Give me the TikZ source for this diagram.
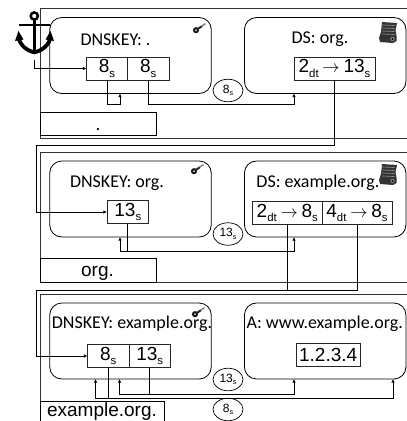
\documentclass[tikz,border=0pt]{standalone}
\usepackage{fontspec}
\setmainfont{Liberation Sans}
\newfontfamily\calib{Carlito}
\usetikzlibrary{arrows.meta,shapes.geometric}
\newcommand{\sbs}[1]{\raisebox{-0.22em}{\fontsize{0.6em}{0.6em}\selectfont #1}}
\newcommand{\arr}{\hspace{0.2em}$\rightarrow$\hspace{0.2em}}
\tikzset{
  x=1pt,y=-1pt,
  frameline/.style={draw=black!80,line width=0.8pt},
  recbox/.style={draw=black,line width=0.8pt,rounded corners=12pt,minimum width=161.5pt,minimum height=76pt,inner sep=0pt,outer sep=0pt},
  cellbox/.style={draw=black!85,line width=0.8pt,minimum height=23pt,inner sep=0pt,outer sep=0pt,font=\fontsize{19}{19}\selectfont},
  zonebox/.style={draw=black,line width=0.8pt,minimum width=116.5pt,minimum height=23.5pt,inner sep=0pt,outer sep=0pt},
  zonetext/.style={inner sep=0pt,anchor=base,font=\fontsize{19}{19}\selectfont},
  titletext/.style={inner sep=0pt,font=\calib\fontsize{18}{18}\selectfont},
  ttl/.style={inner sep=0pt,font=\fontsize{12}{12}\selectfont,draw=black,line width=0.7pt,ellipse,minimum width=30pt,minimum height=22.5pt},
  conn/.style={draw=black,line width=0.8pt},
  arrowconn/.style={conn,-{Latex[length=3.6pt,width=3.6pt]}},
}
\newcommand{\keyicon}[2]{%
  \begin{scope}[shift={(#1,#2)}]
    \draw[black!90,line width=2pt] (3,7.2) circle (2);
    \draw[black!85,line width=2pt] (4.8,5.9) -- (9,3.2);
    \draw[black!50,line width=1.4pt] (8.5,3.2) -- (12.5,0.6);
  \end{scope}}
\newcommand{\scrollicon}[2]{%
  \begin{scope}[shift={(#1,#2)}]
    \fill[black!80] (3,0) -- (18,1) -- (16.5,8) -- (17.5,14) -- (17.5,19) -- (14,21) -- (1,20) -- (0,16) -- (2,10) -- cycle;
    \foreach \yy in {3,6,9,12}{\draw[black!45,line width=0.7pt] (3.2,\yy) -- (15.5,\yy+0.5);}
    \fill[black!50] (13.5,17) circle (2.2);
    \fill[black] (13.5,17) circle (1);
  \end{scope}}
\begin{document}
\begin{tikzpicture}
\useasboundingbox (0,0) rectangle (407,421);
\clip (0,0) rectangle (407,421);
% frames
\draw[frameline] (410,8.5) -- (40,8.5) -- (40,138) -- (410,138);
\draw[frameline] (410,152.3) -- (40,152.3) -- (40,282) -- (410,282);
\draw[frameline] (410,294) -- (40,294) -- (40,425);
% anchor
\begin{scope}[black]
  \draw[line width=2.5pt] (34.3,16) circle (3.6);
  \draw[line width=3.3pt] (34.3,20) -- (34.3,52);
  \draw[line width=2.6pt] (19,25) -- (50,25);
  \draw[line width=3.8pt] (18.5,37) .. controls (20,46) and (28,51) .. (34.3,52.3) .. controls (41,51) and (49,46) .. (50.5,37);
  \fill (15,41) -- (18.5,31) -- (23.5,39.5) -- cycle;
  \fill (45.5,39.5) -- (50.5,31) -- (54,41) -- cycle;
\end{scope}
\coordinate (anchorfoot) at (34,60);
% row 1
\node[recbox] (k1) at (130.5,55.5) {};
\node[recbox] (d1) at (325.2,55.5) {};
\node[titletext] (n1) at (115.5,39.5) {DNSKEY: .};
\node[titletext] (n2) at (320,39.5) {DS: org.};
\node[cellbox,minimum width=41pt] (c1a) at (107,68.5) {8\sbs{s}};
\node[cellbox,minimum width=41.5pt] (c1b) at (148.2,68.5) {8\sbs{s}};
\node[cellbox,minimum width=81pt] (e1) at (334.5,68.5) {2\sbs{dt}\arr 13\sbs{s}};
\node[zonebox,anchor=north west] (z1) at (40,112) {};
\node[zonetext] (n3) at (98,130) {.};
\node[ttl] (t1) at (228,90.5) {8\sbs{s}};
\keyicon{193}{23}
\scrollicon{379}{22}
% row 2
\node[recbox] (k2) at (130.5,199) {};
\node[recbox] (d2) at (325.2,199) {};
\node[titletext] (n4) at (117,183) {DNSKEY: org.};
\node[titletext] (n5) at (318,183) {DS: example.org.};
\node[cellbox,minimum width=41.5pt] (c2) at (127.8,212) {13\sbs{s}};
\node[cellbox,minimum width=70pt] (e2a) at (287.3,213.3) {2\sbs{dt}\arr 8\sbs{s}};
\node[cellbox,minimum width=70pt] (e2b) at (357,213.3) {4\sbs{dt}\arr 8\sbs{s}};
\node[zonebox,anchor=north west] (z2) at (40,258.5) {};
\node[zonetext] (n6) at (97.5,276.7) {org.};
\node[ttl] (t2) at (228,234) {13\sbs{s}};
\keyicon{191}{164}
\scrollicon{379}{164}
% row 3
\node[recbox] (k3) at (130.5,341) {};
\node[recbox] (a3) at (325.2,341) {};
\node[titletext] (n7) at (132,324) {DNSKEY: example.org.};
\node[titletext] (n8) at (324.7,324) {A: www.example.org.};
\node[cellbox,minimum width=41.5pt] (c3a) at (108.3,356) {8\sbs{s}};
\node[cellbox,minimum width=41.5pt] (c3b) at (149.7,356) {13\sbs{s}};
\node[cellbox,minimum width=64.5pt] (v3) at (328.2,354.5) {1.2.3.4};
\node[zonebox,anchor=north west,minimum width=124pt] (z3) at (40,401) {};
\node[zonetext] (n9) at (102,416.3) {example.org.};
\node[ttl] (t3) at (228,379.5) {13\sbs{s}};
\node[ttl] (t4) at (228,409.5) {8\sbs{s}};
\keyicon{192}{307}
% connector helper points
\coordinate (p1) at (120,104);
\coordinate (p2) at (294,104);
\coordinate (p3) at (294,251);
\coordinate (p4) at (120,251);
\coordinate (q1) at (95.5,398);
\coordinate (q2) at (393,398);
\coordinate (q3) at (119.5,394);
\coordinate (q4) at (294,394);
\coordinate (w1) at (36.5,145);
\coordinate (w2) at (36.5,290);
% connectors row 1
\draw[arrowconn] (anchorfoot) |- (c1a.west);
\draw[arrowconn] (c1a.south) |- (p1) -- (p1 |- k1.south);
\draw[arrowconn] (c1b.south) |- (p2) -- (p2 |- d1.south);
\draw[arrowconn] (e1.south) |- (w1) |- (c2.west);
% connectors row 2
\draw[arrowconn] (c2.south) |- (p4) -- (p4 |- k2.south);
\draw[arrowconn] (c2.south) |- (p3) -- (p3 |- d2.south);
\draw[arrowconn,line width=1pt] (e2b.south) |- (w2) |- (c3a.west);
\draw[conn] (e2a.south) -- (e2a.south |- w2);
% connectors row 3
\draw[arrowconn] (c3a.south) |- (q1) -- (q1 |- k3.south);
\draw[arrowconn] (c3a.south) |- (q2) -- (q2 |- a3.south);
\draw[arrowconn] (c3b.south) |- (q3) -- (q3 |- k3.south);
\draw[arrowconn] (c3b.south) |- (q4) -- (q4 |- a3.south);
\end{tikzpicture}
\end{document}
